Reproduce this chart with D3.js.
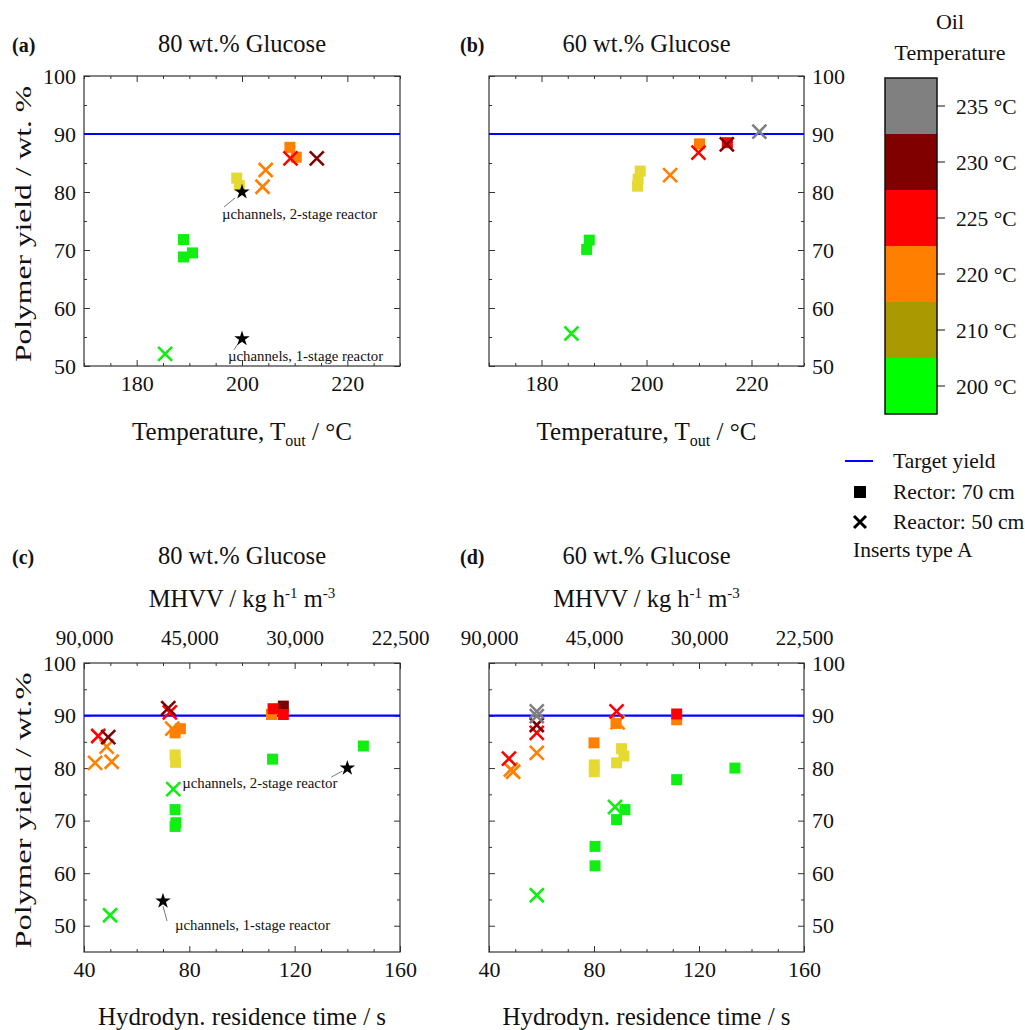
<!DOCTYPE html>
<html lang="en">
<head>
<meta charset="UTF-8" />
<title>Polymer yield vs temperature and residence time</title>
<script src="https://d3js.org/d3.v7.min.js"></script>
<style>
  body { margin: 0; background: #fff; font-family: "Liberation Serif", "DejaVu Serif", serif; }
  text { fill: #111; }
  .tick line { stroke: #333; }
</style>
</head>
<body>
<div id="chart"></div>
<script>
// ---- data ----
// rows: [x, yield, oil temperature °C]
const tempLevels = [235, 230, 225, 220, 210, 200]
const tempLabels = ["235 °C", "230 °C", "225 °C", "220 °C", "210 °C", "200 °C"]
const targetYield = 90

// (a) 80 wt.% glucose vs T_out
const aSquares = [
  [188.9, 71.8, 200], [188.9, 68.8, 200], [190.6, 69.5, 200],
  [199.0, 82.4, 210], [199.5, 81.1, 210],
  [209.1, 87.7, 220], [210.3, 86.0, 220]
]
const aCrosses = [
  [185.4, 52.1, 200], [204.5, 83.8, 220], [203.9, 80.9, 220],
  [209.2, 85.8, 225], [214.2, 85.8, 230]
]
const aStars = [[200, 80, "µchannels, 2-stage reactor"], [200, 54.7, "µchannels, 1-stage reactor"]]

// (b) 60 wt.% glucose vs T_out
const bSquares = [
  [189.1, 71.7, 200], [188.6, 70.1, 200],
  [198.8, 83.6, 210], [198.4, 82.2, 210], [198.3, 81.0, 210],
  [210.1, 88.3, 220], [215.4, 88.5, 225]
]
const bCrosses = [
  [185.7, 55.6, 200], [204.5, 82.9, 220], [209.9, 86.8, 225],
  [215.3, 88.2, 230], [221.5, 90.4, 235]
]

// (c) 80 wt.% glucose vs residence time
const cSquares = [
  [74.6, 72.1, 200], [74.9, 69.6, 200], [74.6, 68.9, 200], [111.6, 81.7, 200], [146.1, 84.2, 200],
  [74.6, 82.5, 210], [74.8, 81.1, 210],
  [74.6, 86.7, 220], [76.6, 87.5, 220], [111.2, 90.2, 220],
  [115.7, 91.8, 230], [111.8, 91.3, 225], [115.7, 90.2, 225]
]
const cCrosses = [
  [49.9, 52.0, 200], [73.9, 76.0, 200],
  [44.2, 81.0, 220], [50.5, 81.2, 220], [48.6, 84.1, 220], [73.5, 87.5, 220],
  [45.4, 86.1, 225], [72.6, 90.6, 225],
  [49.2, 85.9, 230], [72.0, 91.4, 230]
]
const cStars = [[70, 54.7, "µchannels, 1-stage reactor"], [140, 80, "µchannels, 2-stage reactor"]]

// (d) 60 wt.% glucose vs residence time
const dSquares = [
  [80.4, 65.1, 200], [80.4, 61.4, 200], [88.6, 70.2, 200], [91.8, 72.1, 200], [111.5, 77.8, 200], [133.7, 80.0, 200],
  [80.1, 80.6, 210], [80.1, 79.3, 210], [88.6, 81.0, 210], [90.5, 83.7, 210], [91.4, 82.3, 210],
  [80.0, 84.8, 220], [88.4, 88.5, 220], [111.5, 89.2, 220],
  [111.5, 90.3, 225]
]
const dCrosses = [
  [58.2, 55.8, 200], [88.0, 72.6, 200],
  [48.3, 79.7, 220], [49.2, 79.3, 220], [58.2, 82.9, 220], [89.0, 88.7, 220],
  [47.6, 81.8, 225], [58.2, 86.7, 225], [88.6, 90.8, 225],
  [58.2, 88.2, 230],
  [58.2, 89.9, 235], [58.2, 90.8, 235]
]

const tempTicksMajor = [180, 200, 220]
const tauTicksMajor = [40, 80, 120, 160]
const yTicksMajor = [50, 60, 70, 80, 90, 100]
const mhvvConstant = 3600000 // MHVV = constant / tau

// ---- styles ----
const markerColor = { 200: "#11ee11", 210: "#e6da32", 220: "#ff8000", 225: "#ff0000", 230: "#800000", 235: "#808080" }
const barColor = { 200: "#00ff00", 210: "#aa9900", 220: "#ff8000", 225: "#ff0000", 230: "#800000", 235: "#808080" }

const svg = d3.select("#chart").append("svg").attr("width", 1025).attr("height", 1030)

function drawPanel(p) {
  const x = d3.scaleLinear().domain(p.xDomain).range([p.left, p.right])
  const y = d3.scaleLinear().domain(p.yDomain).range([p.bottom, p.top])
  const g = svg.append("g")
  const xMinor = d3.range(p.xDomain[0], p.xDomain[1] + 0.01, p.xMinorStep).filter(v => !p.xMajor.includes(v))
  const yMinor = d3.range(55, 100, 10)

  const axes = [
    [d3.axisBottom(x).tickValues(p.xMajor).tickSize(-6).tickPadding(9), `translate(0,${p.bottom})`],
    [d3.axisBottom(x).tickValues(xMinor).tickSize(-3).tickFormat(""), `translate(0,${p.bottom})`],
    [d3.axisTop(x).tickValues(p.xMajor).tickSize(-6).tickFormat(""), `translate(0,${p.top})`],
    [d3.axisTop(x).tickValues(xMinor).tickSize(-3).tickFormat(""), `translate(0,${p.top})`],
    [d3.axisLeft(y).tickValues(yTicksMajor).tickSize(-6).tickPadding(8).tickFormat(p.yRight ? "" : d3.format("d")), `translate(${p.left},0)`],
    [d3.axisLeft(y).tickValues(yMinor).tickSize(-3).tickFormat(""), `translate(${p.left},0)`],
    [d3.axisRight(y).tickValues(yTicksMajor).tickSize(-6).tickPadding(8).tickFormat(p.yRight ? d3.format("d") : ""), `translate(${p.right},0)`],
    [d3.axisRight(y).tickValues(yMinor).tickSize(-3).tickFormat(""), `translate(${p.right},0)`]
  ]
  axes.forEach(([ax, tr]) => {
    const a = g.append("g").attr("transform", tr).call(ax)
    a.select(".domain").remove()
    a.selectAll("text").style("font-family", "Liberation Serif").style("font-size", "22px").attr("fill", "#111")
  })

  if (p.topAxis) {
    const a = g.append("g").attr("transform", `translate(0,${p.top})`)
      .call(d3.axisTop(x).tickValues(p.xMajor).tickSize(0).tickPadding(18)
        .tickFormat(v => d3.format(",")(Math.round(mhvvConstant / v))))
    a.select(".domain").remove()
    a.selectAll("text").style("font-family", "Liberation Serif").style("font-size", "21px").attr("fill", "#111")
    const t = g.append("text").attr("x", (p.left + p.right) / 2).attr("y", p.top - 56)
      .attr("text-anchor", "middle").style("font-size", "24.5px")
    t.append("tspan").text("MHVV / kg h")
    t.append("tspan").attr("dy", -9).style("font-size", "15px").text("-1")
    t.append("tspan").attr("dy", 9).text(" m")
    t.append("tspan").attr("dy", -9).style("font-size", "15px").text("-3")
  }

  // frame
  g.append("rect").attr("x", p.left).attr("y", p.top)
    .attr("width", p.right - p.left).attr("height", p.bottom - p.top)
    .attr("fill", "none").attr("stroke", "#333").attr("stroke-width", 1.2)

  // target line
  g.append("line").attr("x1", p.left).attr("x2", p.right)
    .attr("y1", y(targetYield)).attr("y2", y(targetYield))
    .attr("stroke", "#0000ff").attr("stroke-width", 2.2)

  // squares
  const s = 11
  g.selectAll(".sq").data(p.squares).join("rect")
    .attr("x", d => x(d[0]) - s / 2).attr("y", d => y(d[1]) - s / 2)
    .attr("width", s).attr("height", s)
    .attr("fill", d => markerColor[d[2]])

  // crosses
  const c = 7
  g.selectAll(".cr").data(p.crosses).join("path")
    .attr("d", d => {
      const cx = x(d[0]), cy = y(d[1])
      return `M${cx - c},${cy - c}L${cx + c},${cy + c}M${cx - c},${cy + c}L${cx + c},${cy - c}`
    })
    .attr("stroke", d => markerColor[d[2]]).attr("stroke-width", 2.6).attr("fill", "none")

  // stars with notes
  ;(p.stars || []).forEach((d, i) => {
    const sx = x(d[0]), sy = y(d[1])
    const n = p.notes[i]
    g.append("line").attr("x1", sx + n.l1[0]).attr("y1", sy + n.l1[1])
      .attr("x2", sx + n.l2[0]).attr("y2", sy + n.l2[1])
      .attr("stroke", "#555").attr("stroke-width", 0.8)
    g.append("path").attr("d", d3.symbol(d3.symbolStar, 75)())
      .attr("transform", `translate(${sx},${sy})`).attr("fill", "#000")
    g.append("text").attr("x", sx + n.dx).attr("y", sy + n.dy)
      .attr("text-anchor", n.anchor).style("font-size", "14.8px").attr("fill", "#222")
      .text(d[2])
  })

  // labels
  svg.append("text").attr("x", p.labelX).attr("y", p.titleY)
    .style("font-size", "20px").style("font-weight", "bold").text(p.label)
  svg.append("text").attr("x", (p.left + p.right) / 2).attr("y", p.titleY)
    .attr("text-anchor", "middle").style("font-size", "24.5px").text(p.title)

  const xt = svg.append("text").attr("x", (p.left + p.right) / 2).attr("y", p.bottom + p.xTitleDy)
    .attr("text-anchor", "middle").style("font-size", "25px")
  if (p.xTitle === "temp") {
    xt.append("tspan").text("Temperature, T")
    xt.append("tspan").attr("dy", 6).style("font-size", "16px").text("out")
    xt.append("tspan").attr("dy", -6).text(" / °C")
  } else {
    xt.text(p.xTitle)
  }

  if (p.yTitle) {
    svg.append("text")
      .attr("transform", `translate(31,${(p.top + p.bottom) / 2 + 3}) rotate(-90)`)
      .attr("text-anchor", "middle").style("font-size", "23.5px")
      .attr("textLength", 276).attr("lengthAdjust", "spacingAndGlyphs")
      .text(p.yTitle)
  }
}

const noteUpper = { dx: -20, dy: 27, anchor: "start", l1: [-7, 6], l2: [-18, 15] }
const noteLowerA = { dx: -14, dy: 22, anchor: "start", l1: [-4, 5], l2: [-8, 11] }

drawPanel({
  label: "(a)", labelX: 12, title: "80 wt.% Glucose", titleY: 52,
  left: 84, right: 400, top: 76, bottom: 366,
  xDomain: [170, 230], xMajor: tempTicksMajor, xMinorStep: 5, yDomain: [50, 100],
  squares: aSquares, crosses: aCrosses, stars: aStars, notes: [noteUpper, noteLowerA],
  xTitle: "temp", xTitleDy: 74, yTitle: "Polymer yield / wt. %", yRight: false
})
drawPanel({
  label: "(b)", labelX: 460, title: "60 wt.% Glucose", titleY: 52,
  left: 489, right: 804, top: 76, bottom: 366,
  xDomain: [170, 230], xMajor: tempTicksMajor, xMinorStep: 5, yDomain: [50, 100],
  squares: bSquares, crosses: bCrosses,
  xTitle: "temp", xTitleDy: 74, yTitle: null, yRight: true
})
drawPanel({
  label: "(c)", labelX: 12, title: "80 wt.%  Glucose", titleY: 564,
  left: 84, right: 400, top: 663, bottom: 952,
  xDomain: [40, 160], xMajor: tauTicksMajor, xMinorStep: 10, yDomain: [45, 100], topAxis: true,
  squares: cSquares, crosses: cCrosses, stars: cStars,
  notes: [
    { dx: 12, dy: 29, anchor: "start", l1: [0, 5], l2: [4, 20] },
    { dx: -10, dy: 20, anchor: "end", l1: [-5, 3], l2: [-16, 9] }
  ],
  xTitle: "Hydrodyn. residence time / s", xTitleDy: 73, yTitle: "Polymer yield / wt.%", yRight: false
})
drawPanel({
  label: "(d)", labelX: 460, title: "60 wt.% Glucose", titleY: 564,
  left: 489, right: 804, top: 663, bottom: 952,
  xDomain: [40, 160], xMajor: tauTicksMajor, xMinorStep: 10, yDomain: [45, 100], topAxis: true,
  squares: dSquares, crosses: dCrosses,
  xTitle: "Hydrodyn. residence time / s", xTitleDy: 73, yTitle: null, yRight: true
})

// ---- colour bar legend ----
const bar = d3.scaleBand().domain(tempLevels).range([78, 414])
const lg = svg.append("g")
lg.selectAll("rect.seg").data(tempLevels).join("rect")
  .attr("x", 885).attr("width", 52)
  .attr("y", d => bar(d)).attr("height", bar.bandwidth())
  .attr("fill", d => barColor[d])
lg.append("rect").attr("x", 885).attr("y", 78).attr("width", 52).attr("height", 336)
  .attr("fill", "none").attr("stroke", "#111").attr("stroke-width", 1.5)
lg.selectAll("line.tk").data(tempLevels).join("line")
  .attr("x1", 937).attr("x2", 945)
  .attr("y1", d => bar(d) + bar.bandwidth() / 2).attr("y2", d => bar(d) + bar.bandwidth() / 2)
  .attr("stroke", "#111")
lg.selectAll("text.tl").data(tempLevels).join("text")
  .attr("x", 956).attr("y", d => bar(d) + bar.bandwidth() / 2).attr("dy", "0.35em")
  .style("font-size", "21.5px").text((d, i) => tempLabels[i])
lg.append("text").attr("x", 950).attr("y", 29).attr("text-anchor", "middle").style("font-size", "22px").text("Oil")
lg.append("text").attr("x", 950).attr("y", 60).attr("text-anchor", "middle").style("font-size", "22px").text("Temperature")

// ---- marker legend ----
lg.append("line").attr("x1", 845).attr("x2", 873).attr("y1", 461).attr("y2", 461)
  .attr("stroke", "#0000ff").attr("stroke-width", 2)
lg.append("text").attr("x", 893).attr("y", 468).style("font-size", "21.5px").text("Target yield")
lg.append("rect").attr("x", 854).attr("y", 486).attr("width", 12).attr("height", 12).attr("fill", "#000")
lg.append("text").attr("x", 893).attr("y", 499).style("font-size", "21.5px").text("Rector: 70 cm")
lg.append("path").attr("d", "M854,516L866,528M854,528L866,516").attr("stroke", "#000").attr("stroke-width", 3)
lg.append("text").attr("x", 893).attr("y", 529).style("font-size", "21.5px").text("Reactor: 50 cm")
lg.append("text").attr("x", 853).attr("y", 557).style("font-size", "21.5px").text("Inserts type A")
</script>
</body>
</html>
